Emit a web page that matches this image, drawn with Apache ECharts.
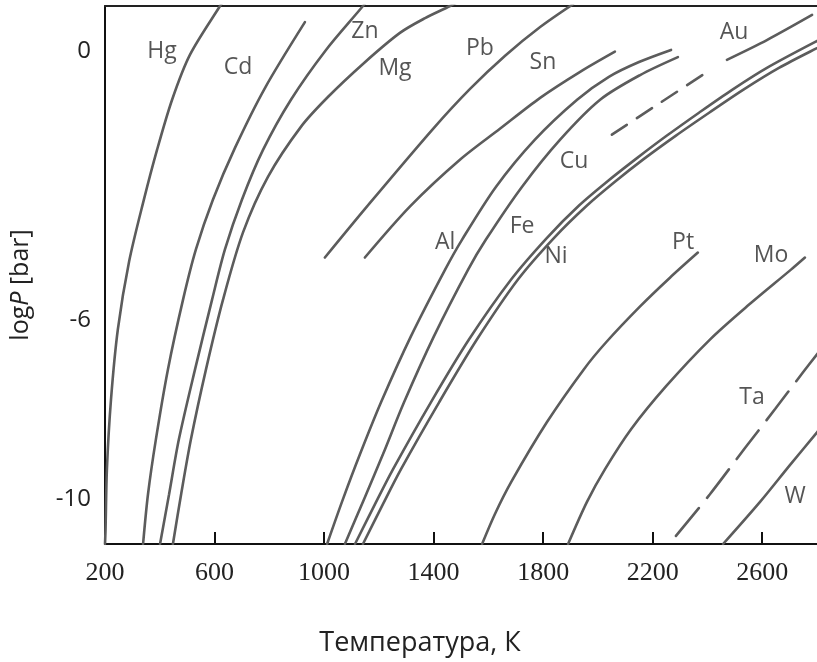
<!DOCTYPE html>
<html><head><meta charset="utf-8">
<script src="https://cdn.jsdelivr.net/npm/echarts@6/dist/echarts.min.js"></script>
<style>html,body{margin:0;padding:0;background:#fff}#c{width:817px;height:662px}</style>
</head><body><div id="c"></div>
<script>
// Tick labels
const xTicks = [200, 600, 1000, 1400, 1800, 2200, 2600];
const yTicks = [0, -6, -10];

// Curves: temperature (K) and log P (bar)
const hgT = [635, 620, 510, 445, 390, 342, 288, 247, 222, 207, 202, 200];
const hgP = [1.13, 1.0, -0.09, -1.09, -2.21, -3.32, -4.70, -6.21, -7.77, -9.33, -10.67, -11.0];
const cdT = [930, 784, 675, 594, 532, 485, 430, 386, 357, 339];
const cdP = [0.64, -0.83, -2.16, -3.32, -4.43, -5.55, -7.10, -8.66, -9.89, -11.0];
const znT = [1157, 1142, 1007, 879, 777, 700, 638, 591, 529, 470, 434, 401];
const znP = [1.13, 1.0, 0.02, -1.09, -2.21, -3.32, -4.43, -5.55, -7.10, -8.66, -9.89, -11.0];
const mgT = [1500, 1460, 1369, 1277, 1146, 1014, 916, 795, 704, 631, 569, 514, 478, 448];
const mgP = [1.13, 1.0, 0.73, 0.40, -0.27, -1.03, -1.69, -2.81, -4.05, -5.55, -7.10, -8.66, -9.89, -11.0];
const pbT = [1003, 1157, 1398, 1533, 1661, 1789, 1909];
const pbP = [-4.61, -3.47, -1.74, -0.85, -0.11, 0.53, 1.04];
const snT = [1149, 1314, 1496, 1642, 1789, 1935, 2062];
const snP = [-4.61, -3.47, -2.43, -1.74, -1.05, -0.47, -0.02];
const alT = [1011, 1069, 1131, 1208, 1317, 1442, 1504, 1628, 1770, 1924, 2040, 2150, 2267];
const alP = [-11.0, -10.0, -9.0, -7.84, -6.37, -4.88, -4.21, -3.03, -1.98, -1.09, -0.58, -0.25, 0.02];
const cuT = [1076, 1146, 1215, 1292, 1401, 1526, 1591, 1723, 1862, 2008, 2154, 2292];
const cuP = [-11.0, -10.0, -9.0, -7.84, -6.37, -4.88, -4.21, -3.03, -1.98, -1.09, -0.54, -0.14];
const feT = [1113, 1186, 1252, 1390, 1529, 1683, 1814, 1931, 2033, 2139, 2252, 2369, 2490, 2617, 2800, 2884];
const feP = [-11.0, -10.11, -9.33, -7.84, -6.44, -5.10, -4.17, -3.45, -2.92, -2.41, -1.89, -1.38, -0.87, -0.38, 0.22, 0.47];
const niT = [1142, 1215, 1281, 1420, 1558, 1708, 1840, 1960, 2062, 2168, 2285, 2406, 2530, 2661, 2800, 2884];
const niP = [-11.0, -10.11, -9.33, -7.84, -6.44, -5.10, -4.17, -3.45, -2.92, -2.41, -1.89, -1.38, -0.87, -0.38, 0.06, 0.31];
const auDashT = [2051, 2227, 2417];
const auDashP = [-1.87, -1.16, -0.40];
const auT = [2471, 2617, 2782];
const auP = [-0.20, 0.24, 0.80];
const ptT = [1577, 1624, 1683, 1814, 1949, 2030, 2154, 2263, 2365];
const ptP = [-11.0, -10.33, -9.62, -8.28, -7.10, -6.50, -5.70, -5.06, -4.50];
const moT = [1891, 1960, 2026, 2121, 2249, 2409, 2552, 2705, 2756];
const moP = [-11.0, -10.06, -9.33, -8.44, -7.48, -6.44, -5.66, -4.88, -4.61];
const taT = [2285, 2409, 2537, 2647, 2749, 2800, 2847];
const taP = [-10.82, -9.89, -8.86, -7.99, -7.17, -6.77, -6.41];
const wT = [2457, 2592, 2701, 2800, 2884];
const wP = [-11.0, -10.06, -9.24, -8.51, -7.88];

// Curve labels (element, T, log P)
const labelNames = ['Hg', 'Cd', 'Zn', 'Mg', 'Pb', 'Sn', 'Cu', 'Al', 'Fe', 'Ni', 'Au', 'Pt', 'Mo', 'Ta', 'W'];
const labelT = [408, 686, 1149, 1259, 1569, 1799, 1913, 1442, 1723, 1847, 2497, 2311, 2632, 2563, 2720];
const labelP = [-0.02, -0.38, 0.44, -0.40, 0.06, -0.27, -2.47, -4.28, -3.92, -4.59, 0.40, -4.28, -4.57, -7.73, -9.93];

const curves = [
  ['Hg', hgT, hgP, 'solid'], ['Cd', cdT, cdP, 'solid'], ['Zn', znT, znP, 'solid'],
  ['Mg', mgT, mgP, 'solid'], ['Pb', pbT, pbP, 'solid'], ['Sn', snT, snP, 'solid'],
  ['Al', alT, alP, 'solid'], ['Cu', cuT, cuP, 'solid'], ['Fe', feT, feP, 'solid'],
  ['Ni', niT, niP, 'solid'], ['Au', auDashT, auDashP, [18, 12]], ['Au', auT, auP, 'solid'],
  ['Pt', ptT, ptP, 'solid'], ['Mo', moT, moP, 'solid'], ['Ta', taT, taP, [36, 13]],
  ['W', wT, wP, 'solid']
];

const zip = (a, b) => a.map((v, i) => [v, b[i]]);
const lineColor = '#5c5c5c';
const series = curves.map(c => ({
  name: c[0], type: 'line', data: zip(c[1], c[2]), showSymbol: false, symbol: 'none',
  smooth: 0.3, clip: true, silent: true,
  lineStyle: { color: lineColor, width: 2.6, type: c[3], cap: 'round' }
}));
series.push({
  type: 'scatter', silent: true, symbolSize: 1,
  itemStyle: { color: 'rgba(0,0,0,0)' },
  data: labelNames.map((n, i) => ({ name: n, value: [labelT[i], labelP[i]] })),
  label: { show: true, position: 'inside', formatter: p => p.name,
           fontFamily: 'Open Sans', fontSize: 23, color: '#2a2a2a' }
});

const chart = echarts.init(document.getElementById('c'), null, { renderer: 'canvas' });
chart.setOption({
  animation: false,
  backgroundColor: '#ffffff',
  grid: { left: 105, right: 0, top: 6, bottom: 117, containLabel: false },
  xAxis: [{
    type: 'value', min: 200, max: 2800,
    axisLine: { show: true, onZero: false, lineStyle: { color: '#111', width: 2 } },
    axisTick: { show: true, inside: true, length: 12, customValues: xTicks, lineStyle: { color: '#111', width: 2 } },
    axisLabel: { customValues: xTicks, margin: 16, fontFamily: 'Liberation Serif', fontSize: 26, color: '#222',
                 formatter: v => String(v) },
    splitLine: { show: false },
    name: 'Температура, К', nameLocation: 'middle', nameGap: 86,
    nameTextStyle: { fontFamily: 'Open Sans', fontSize: 27, color: '#222', padding: [0, 82, 0, 0] }
  }, {
    type: 'value', min: 200, max: 2800, position: 'top',
    axisLine: { show: true, onZero: false, lineStyle: { color: '#222', width: 2 } },
    axisTick: { show: false }, axisLabel: { show: false }, splitLine: { show: false }
  }],
  yAxis: {
    type: 'value', min: -11, max: 1,
    axisLine: { show: true, onZero: false, lineStyle: { color: '#111', width: 2 } },
    axisTick: { show: false },
    axisLabel: { customValues: yTicks, margin: 14, fontFamily: 'Open Sans', fontSize: 24, color: '#222' },
    splitLine: { show: false },
    name: '{a|log}{b|P}{a| [bar]}', nameLocation: 'middle', nameRotate: 90, nameGap: 72,
    nameTextStyle: { padding: [0, 20, 0, 0], rich: {
      a: { fontFamily: 'Open Sans', fontSize: 25, color: '#222' },
      b: { fontFamily: 'Open Sans', fontSize: 25, fontStyle: 'italic', color: '#222' }
    } }
  },
  series: series
});
</script>
</body></html>
